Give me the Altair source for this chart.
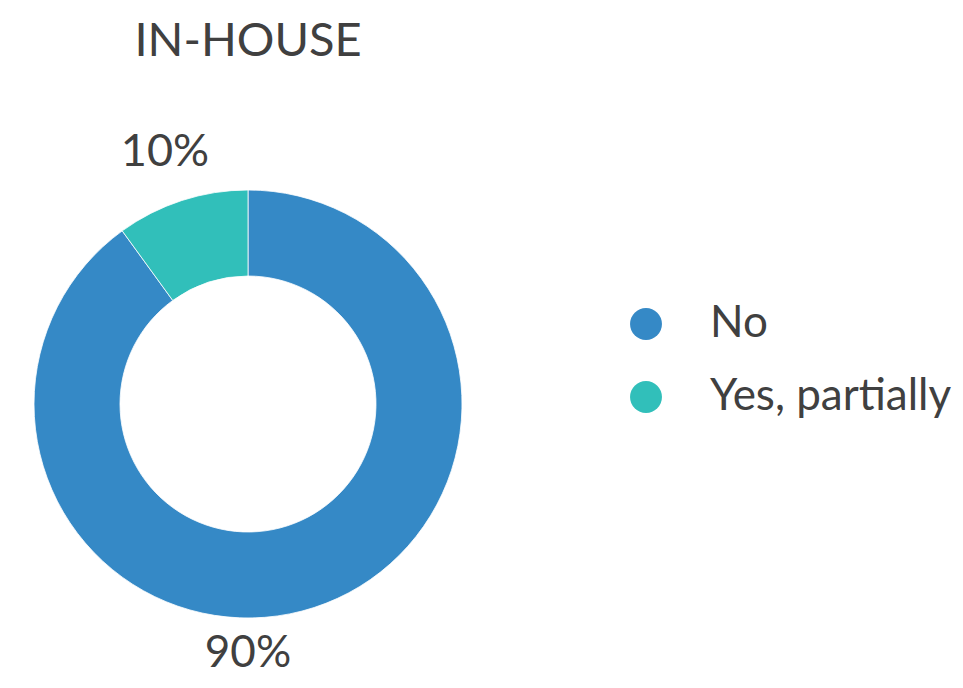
import altair as alt
import pandas as pd

categories = ["No", "Yes, partially"]
values = [90, 10]
labels = ["90%", "10%"]
colors = ["#3589C6", "#31BFBA"]
title_text = "IN-HOUSE"

df = pd.DataFrame({"answer": categories, "value": values, "label": labels})

FONT = "Lato"
TXT = "#404040"
CX, CY = 240, 396

base = alt.Chart(df)

arc = base.mark_arc(x=CX, y=CY, outerRadius=214, innerRadius=128,
                    stroke="white", strokeWidth=0.8).encode(
    theta=alt.Theta("value:Q", stack=True),
    color=alt.Color("answer:N",
                    scale=alt.Scale(domain=categories, range=colors),
                    legend=alt.Legend(title=None, orient="none",
                                      legendX=616, legendY=294,
                                      symbolType="circle", symbolSize=1018,
                                      symbolStrokeWidth=0,
                                      labelFont=FONT, labelFontSize=44,
                                      labelColor=TXT, labelOffset=42,
                                      rowPadding=29, labelLimit=400)),
    order=alt.Order("answer:N"),
)

lab_no = base.transform_filter(alt.datum.answer == "No").mark_text(
    font=FONT, fontSize=44, color=TXT, align="center", baseline="middle"
).encode(x=alt.value(CX), y=alt.value(CY + 250), text="label:N")

lab_yes = base.transform_filter(alt.datum.answer == "Yes, partially").mark_text(
    font=FONT, fontSize=45, color=TXT, align="center", baseline="middle"
).encode(x=alt.value(CX - 83), y=alt.value(CY - 252), text="label:N")

title = alt.Chart(pd.DataFrame({"t": [title_text]})).mark_text(
    font=FONT, fontSize=47, color=TXT, align="center", baseline="middle",
    fontWeight="normal"
).encode(x=alt.value(CX), y=alt.value(34), text="t:N")

chart = alt.layer(arc, lab_no, lab_yes, title).properties(
    width=947, height=672,
    autosize=alt.AutoSizeParams(type="none"),
    padding=0,
).configure_view(stroke=None)

chart.save("out.html", embed_options={"renderer": "svg", "actions": False})
